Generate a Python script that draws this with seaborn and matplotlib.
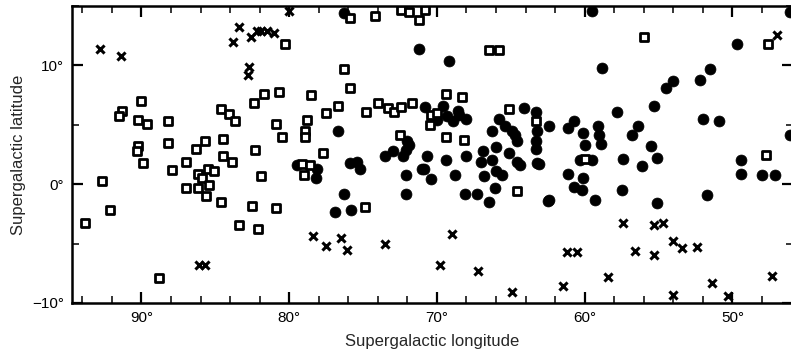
import matplotlib
matplotlib.use("Agg")
import matplotlib.pyplot as plt
import seaborn as sns
import pandas as pd
from matplotlib.ticker import MultipleLocator, FixedLocator

# ---- data (supergalactic longitude, latitude in degrees) ----
square_lon = [80.3, 90.0, 91.3, 91.5, 90.2, 89.6, 88.2, 84.6, 84.1, 83.7, 82.4, 81.7,
              80.7, 80.9, 80.5, 78.9, 78.9, 78.8, 78.5, 90.2, 90.3, 88.2, 86.3, 85.7,
              84.5, 84.5, 83.9, 82.3, 87.0, 89.9, 92.7, 92.1, 93.8, 87.9, 86.2, 85.5,
              85.1, 85.9, 85.4, 87.0, 86.2, 85.6, 84.6, 81.9, 82.5, 80.9, 83.4, 82.1,
              79.1, 78.6, 79.0, 88.8, 75.9, 76.7, 77.5, 76.3, 74.8, 74.0, 73.3, 72.9,
              72.4, 71.7, 77.7, 72.5, 69.4, 68.3, 65.1, 69.4, 68.2, 70.4, 70.0, 70.5,
              63.3, 64.6, 74.9, 60.0, 75.9, 74.2, 72.4, 71.9, 70.8, 71.2, 66.5, 65.8,
              56.0, 47.6, 47.7]
square_lat = [11.8, 7.0, 6.2, 5.7, 5.4, 5.1, 5.3, 6.3, 5.9, 5.3, 6.8, 7.6,
              7.8, 5.1, 4.0, 4.5, 4.0, 5.4, 7.5, 3.2, 2.8, 3.5, 3.0, 3.6,
              3.8, 2.4, 1.9, 2.9, 1.9, 1.8, 0.3, -2.2, -3.3, 1.2, 0.9, 1.3,
              1.1, 0.5, -0.1, -0.3, -0.3, -1.0, -1.5, 0.7, -1.8, -2.0, -3.4, -3.8,
              1.7, 1.6, 0.8, -7.9, 8.1, 6.6, 6.0, 9.7, 6.1, 6.8, 6.4, 6.1,
              6.5, 6.8, 2.6, 4.1, 7.6, 7.3, 6.3, 4.0, 3.7, 5.8, 6.0, 5.0,
              5.3, -0.6, -1.9, 2.1, 14.0, 14.2, 14.7, 14.5, 14.7, 13.8, 11.3, 11.3,
              12.4, 11.8, 2.5]

circle_lon = [76.3, 59.5, 71.2, 69.2, 46.1, 49.7, 58.8, 51.5, 52.2, 54.0, 54.5, 55.3,
              57.8, 52.0, 50.9, 76.7, 79.5, 78.1, 78.2, 75.9, 75.4, 75.2, 73.5, 73.0,
              72.3, 72.0, 72.1, 72.1, 71.0, 76.3, 72.1, 76.9, 75.8, 70.8, 69.6, 68.6,
              70.0, 69.3, 68.9, 68.0, 68.5, 64.1, 63.3, 65.8, 65.4, 66.3, 64.9, 64.7,
              64.6, 65.1, 64.6, 64.4, 63.3, 63.2, 71.9, 70.7, 70.9, 70.4, 69.4, 68.8,
              68.0, 66.9, 66.0, 67.0, 66.3, 66.0, 66.8, 65.6, 66.1, 68.1, 67.3, 66.5,
              62.5, 62.4, 63.2, 63.3, 60.7, 61.1, 60.1, 59.1, 59.0, 58.9, 60.0, 60.3,
              59.5, 63.1, 56.4, 56.8, 57.4, 56.1, 55.5, 55.1, 61.1, 60.1, 60.7, 60.2,
              57.5, 62.4, 59.3, 55.1, 51.7, 49.4, 49.4, 48.0, 47.1, 46.1]
circle_lat = [14.4, 14.6, 11.4, 10.4, 14.5, 11.8, 9.8, 9.7, 8.8, 8.7, 8.1, 6.6,
              6.1, 5.5, 5.3, 4.5, 1.6, 1.3, 0.5, 1.8, 1.9, 1.3, 2.4, 2.8,
              2.4, 3.6, 2.9, 0.8, 1.3, -0.8, -0.8, -2.3, -2.2, 6.5, 6.6, 6.2,
              5.4, 5.7, 5.3, 5.5, 5.8, 6.4, 6.1, 5.5, 4.9, 4.5, 4.5, 4.1,
              3.6, 2.6, 1.9, 1.6, 3.6, 1.8, 3.3, 2.4, 1.3, 0.4, 2.0, 0.8,
              2.4, 2.8, 3.1, 1.9, 2.0, 1.1, 0.7, 0.8, -0.3, -0.8, -0.8, -1.5,
              -1.4, 4.9, 4.5, 3.0, 5.3, 4.7, 4.3, 4.9, 4.1, 3.4, 3.3, 2.0,
              2.0, 1.7, 4.9, 4.1, 2.1, 1.5, 3.2, 2.2, 0.9, 0.5, -0.2, -0.5,
              -0.5, -1.3, -1.3, -1.6, -0.9, 2.0, 0.9, 0.8, 0.8, 4.1]

cross_lon = [92.8, 91.4, 83.4, 83.8, 82.6, 82.2, 81.9, 81.5, 81.0, 80.0, 82.7, 82.8,
             86.1, 85.7, 78.4, 77.5, 76.5, 76.1, 73.5, 69.0, 69.8, 67.2, 64.9, 57.4,
             55.3, 54.7, 61.2, 60.5, 56.6, 55.3, 54.0, 53.4, 52.4, 61.5, 58.4, 54.0,
             51.4, 50.3, 47.3, 47.0]
cross_lat = [11.4, 10.8, 13.2, 12.0, 12.4, 12.9, 12.9, 12.9, 12.7, 14.6, 9.9, 9.2,
             -6.8, -6.8, -4.4, -5.2, -4.5, -5.5, -5.0, -4.2, -6.8, -7.3, -9.1, -3.3,
             -3.4, -3.3, -5.7, -5.7, -5.6, -6.0, -4.8, -5.4, -5.3, -8.6, -7.8, -9.3,
             -8.3, -9.4, -7.7, 12.6]

x_ticks = [90, 80, 70, 60, 50]
x_ticklabels = ["90°", "80°", "70°", "60°", "50°"]
y_ticks = [-10, 0, 10]
y_ticklabels = ["\u221210°", "0°", "10°"]

sq = pd.DataFrame({"lon": square_lon, "lat": square_lat})
ci = pd.DataFrame({"lon": circle_lon, "lat": circle_lat})
cr = pd.DataFrame({"lon": cross_lon, "lat": cross_lat})

sns.set_style("ticks")
plt.rcParams["font.family"] = ["Liberation Sans", "DejaVu Sans"]

fig = plt.figure(figsize=(7.91, 3.56), dpi=100)
ax = fig.add_axes([72 / 791, 1 - 303 / 356, (793 - 72) / 791, (303 - 6) / 356])

sns.scatterplot(data=ci, x="lon", y="lat", marker="o", s=62, color="black",
                edgecolor="black", linewidth=0.5, ax=ax, zorder=3)
sns.scatterplot(data=sq, x="lon", y="lat", marker="s", s=34, facecolor="white",
                edgecolor="black", linewidth=2.0, ax=ax, zorder=4)
sns.scatterplot(data=cr, x="lon", y="lat", marker="x", s=34, color="black",
                linewidth=2.2, ax=ax, zorder=4)

ax.set_xlim(94.7, 45.9)
ax.set_ylim(-10, 15)

ax.xaxis.set_major_locator(FixedLocator(x_ticks))
ax.set_xticklabels(x_ticklabels)
ax.xaxis.set_minor_locator(MultipleLocator(2))
ax.yaxis.set_major_locator(FixedLocator(y_ticks))
ax.set_yticklabels(y_ticklabels)
ax.yaxis.set_minor_locator(MultipleLocator(5))

ax.tick_params(axis="both", which="major", direction="in", length=8, width=1.6,
               top=True, right=True, labelsize=11, pad=6, colors="black")
ax.tick_params(axis="both", which="minor", direction="in", length=5, width=1.3,
               top=True, right=True)
for sp in ax.spines.values():
    sp.set_visible(True)
    sp.set_linewidth(1.8)
    sp.set_color("black")

ax.set_xlabel("Supergalactic longitude", fontsize=12, labelpad=6)
ax.set_ylabel("Supergalactic latitude", fontsize=12, labelpad=4)

fig.savefig("out.png", dpi=100)
